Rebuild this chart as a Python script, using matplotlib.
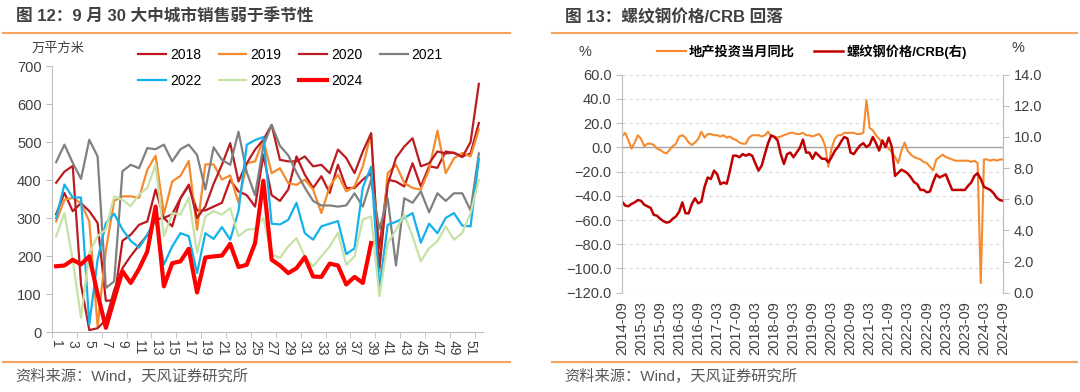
import matplotlib.pyplot as plt
import numpy as np
from matplotlib.lines import Line2D
from matplotlib.ticker import FuncFormatter

plt.rcParams["font.family"] = ["Liberation Sans", "Noto Sans CJK SC"]
plt.rcParams["axes.unicode_minus"] = True

# ---- left panel: weekly sales of 30 large/medium cities (万平方米) ----
weeks = list(range(1, 53))
week_labels = [str(w) for w in range(1, 53, 2)]

sales_2018 = [310, 366, 318, 339, 318, 287, 82, 84, 240, 256, 282, 291, 375, 300, 278, 352,
              385, 320, 320, 330, 340, 400, 370, 360, 330, 466, 360, 345, 375, 462, 414, 379,
              410, 366, 440, 379, 379, 401, 418, 220, 401, 396, 383, 444, 383, 436, 432, 475,
              471, 462, 470, 550]
sales_2019 = [291, 348, 353, 339, 291, 15, 215, 345, 357, 357, 353, 427, 464, 311, 396, 411,
              450, 269, 441, 441, 401, 412, 340, 444, 449, 506, 418, 431, 392, 387, 401, 375,
              313, 383, 414, 370, 383, 436, 523, 160, 418, 440, 392, 379, 375, 427, 530, 418,
              457, 471, 462, 533]
sales_2020 = [393, 422, 437, 125, 5, 10, 32, 110, 168, 200, 228, 255, 296, 300, 310, 352,
              388, 300, 330, 390, 440, 497, 396, 444, 480, 506, 545, 453, 449, 449, 462, 436,
              440, 418, 480, 458, 418, 475, 523, 170, 387, 458, 488, 510, 436, 444, 475, 470,
              472, 460, 500, 653]
sales_2021 = [447, 493, 445, 403, 506, 462, 116, 133, 423, 440, 431, 484, 481, 493, 449, 481,
              493, 466, 375, 486, 453, 440, 527, 420, 360, 490, 545, 490, 465, 420, 380, 345,
              333, 333, 330, 333, 365, 330, 400, 270, 352, 175, 352, 340, 370, 315, 365, 345,
              365, 365, 320, 470]
sales_2022 = [300, 388, 354, 354, 20, 190, 287, 311, 270, 240, 222, 256, 296, 178, 225, 260,
              252, 155, 260, 245, 276, 243, 318, 493, 505, 513, 285, 283, 295, 340, 260, 243,
              278, 285, 292, 205, 220, 380, 435, 115, 282, 290, 300, 313, 235, 285, 260, 300,
              313, 280, 278, 455]
sales_2023 = [252, 313, 190, 37, 208, 252, 270, 357, 348, 331, 362, 379, 440, 252, 313, 309,
              353, 208, 304, 318, 309, 326, 252, 269, 271, 300, 204, 195, 225, 247, 199, 173,
              199, 225, 261, 177, 199, 296, 304, 94, 234, 269, 309, 252, 186, 221, 239, 278,
              243, 261, 313, 400]
sales_2024 = [173, 175, 190, 178, 199, 100, 11, 86, 160, 129, 166, 212, 330, 120, 181, 186,
              219, 104, 196, 199, 201, 232, 171, 177, 234, 398, 190, 175, 155, 168, 197, 146,
              145, 180, 175, 125, 145, 129, 234]

years = ["2018", "2019", "2020", "2021", "2022", "2023", "2024"]
year_colors = ["#C0161D", "#F58A2E", "#B81E22", "#808080", "#14B1EC", "#C6E2A6", "#FF0000"]

# ---- right panel: monthly, 2014-09 .. 2024-09 ----
month_idx = list(range(121))
month_labels = ["2014-09", "2015-03", "2015-09", "2016-03", "2016-09", "2017-03", "2017-09",
                "2018-03", "2018-09", "2019-03", "2019-09", "2020-03", "2020-09", "2021-03",
                "2021-09", "2022-03", "2022-09", "2023-03", "2023-09", "2024-03", "2024-09"]

invest_yoy = [9, 12, 6, -1, 4, 10, 7, 1, 3, 3, 2, -1,
              -2, -4, -5, -2, 1, 3, 9, 10, 8, 4, 2, 4,
              7, 13, 8, 11, 11, 10, 10, 9, 10, 8, 9, 7,
              6, 4, 3, 3, 8, 10, 10, 10, 9, 10, 13, 9,
              9, 8, 9, 10, 11, 12, 12, 11, 11, 12, 10, 10,
              9, 10, 11, 8, 1, -16, -1, 7, 10, 10, 12, 12,
              12, 12, 11, 11, 12, 39, 16, 14, 10, 7, 4, 2,
              -1, -4, -8, -13, -3, 4, -3, -6, -8, -9, -10, -12,
              -13, -16, -19, -10, -8, -6, -8, -9, -10, -11, -11, -11,
              -11, -11, -12, -11, -13, -112, -10, -10, -11, -10, -11, -10,
              -10]
rebar_crb = [5.85, 5.6, 5.55, 5.7, 5.8, 5.95, 5.9, 5.65, 5.55, 5.45, 5.0, 4.95,
             4.75, 4.6, 4.5, 4.55, 4.75, 4.9, 5.2, 5.8, 5.1, 5.1, 5.7, 6.06,
             5.74, 5.85, 6.8, 7.4, 7.3, 7.84, 7.6, 6.97, 7.08, 7.0, 7.84, 8.8,
             8.8, 8.7, 8.9, 8.8, 8.9, 8.8, 8.3, 7.84, 8.16, 8.9, 9.6, 10.1,
             10.0, 9.78, 8.9, 8.27, 8.9, 9.0, 8.7, 9.0, 9.3, 9.83, 9.0, 9.0,
             8.6, 9.0, 8.8, 8.6, 8.6, 8.38, 8.7, 9.1, 9.35, 9.7, 10.0, 9.9,
             9.0, 8.9, 9.2, 9.46, 9.6, 9.35, 9.5, 10.0, 9.6, 9.13, 9.78, 9.35,
             9.96, 9.35, 7.5, 7.7, 7.9, 7.8, 7.65, 7.4, 7.1, 6.97, 6.6, 6.6,
             6.45, 6.5, 7.1, 7.6, 7.4, 7.5, 7.6, 7.08, 6.6, 6.6, 6.6, 6.6,
             6.6, 6.86, 7.08, 7.5, 7.67, 7.3, 6.8, 6.7, 6.6, 6.4, 6.1, 5.95,
             5.9]

TEXT = "#404040"
SPINE = "#BFBFBF"
ORANGE_RULE = "#F4A25E"

fig = plt.figure(figsize=(10.8, 3.92), dpi=100)


def fig_x(px):
    return px / 1080


def fig_y(py):
    return 1 - py / 392


def draw_frame(x0, x1, title, title_x):
    fig.text(fig_x(title_x), fig_y(17), title, fontsize=12, fontweight="bold",
             color=TEXT, va="center", ha="left")
    for py in (33, 362):
        fig.add_artist(Line2D([fig_x(x0), fig_x(x1)], [fig_y(py)] * 2,
                              color=ORANGE_RULE, lw=1.5, transform=fig.transFigure))
    fig.text(fig_x(title_x - 1), fig_y(376), "资料来源：Wind，天风证券研究所",
             fontsize=11, color="#595959", va="center", ha="left")


# ---------------- left chart ----------------
draw_frame(3, 510, "图 12：9 月 30 大中城市销售弱于季节性", 16)

ax1 = fig.add_axes([fig_x(52), fig_y(332), fig_x(483 - 52), (332 - 66) / 392])
series = [sales_2018, sales_2019, sales_2020, sales_2021, sales_2022, sales_2023, sales_2024]
lines = {}
for year, vals, color in zip(years, series, year_colors):
    lw = 3.0 if year == "2024" else 1.6
    lines[year], = ax1.plot(weeks[:len(vals)], vals, color=color, lw=lw, label=year,
                            zorder=5 if year == "2024" else 3)

ax1.set_xlim(0.5, 52.5)
ax1.set_ylim(0, 700)
ax1.set_yticks(range(0, 701, 100))
ax1.set_xticks(range(1, 53, 2))
ax1.set_xticklabels(week_labels, rotation=270)
ax1.set_xticks(np.arange(0.5, 53, 3), minor=True)
ax1.tick_params(axis="x", which="major", length=0, pad=6, labelsize=10, labelcolor=TEXT)
ax1.tick_params(axis="x", which="minor", length=4, color=SPINE, direction="out")
ax1.tick_params(axis="y", length=4, color=SPINE, labelsize=10.5, labelcolor=TEXT)
for side in ("top", "right"):
    ax1.spines[side].set_visible(False)
for side in ("left", "bottom"):
    ax1.spines[side].set_color(SPINE)
fig.text(fig_x(58), fig_y(49), "万平方米", fontsize=9.5, color=TEXT, ha="center", va="center")

# legend fills column by column, so interleave to get two rows 2018-2021 / 2022-2024
legend_order = ["2018", "2022", "2019", "2023", "2020", "2024", "2021"]
fig.legend([lines[y] for y in legend_order], legend_order, loc="upper left",
           bbox_to_anchor=(fig_x(138), fig_y(48)), ncol=4, frameon=False, fontsize=10,
           handlelength=2.0, handletextpad=0.3, columnspacing=1.25, labelspacing=0.85,
           borderpad=0, borderaxespad=0)

# ---------------- right chart ----------------
draw_frame(552, 1077, "图 13：螺纹钢价格/CRB 回落", 565)

ax2 = fig.add_axes([fig_x(622), fig_y(292.7), fig_x(1003 - 622), (292.7 - 74.7) / 392])
ax3 = ax2.twinx()

ax2.plot(month_idx, invest_yoy, color="#F58A2E", lw=1.5, label="地产投资当月同比")
ax3.plot(month_idx, rebar_crb, color="#C00000", lw=1.8, label="螺纹钢价格/CRB(右)")

fmt = FuncFormatter(lambda v, _: f"{v:.1f}".replace("-", "\u2212"))
ax2.set_xlim(0, 120)
ax2.set_ylim(-120, 60)
ax2.set_yticks(range(-120, 61, 20))
ax2.yaxis.set_major_formatter(fmt)
ax3.set_ylim(0, 14)
ax3.set_yticks(range(0, 15, 2))
ax3.yaxis.set_major_formatter(fmt)
ax2.set_xticks(range(0, 121, 6))
ax2.set_xticklabels(month_labels, rotation=90)
ax2.tick_params(axis="x", length=0, pad=6, labelsize=10.5, labelcolor=TEXT)
ax2.tick_params(axis="y", length=4, color=SPINE, labelsize=10.5, labelcolor=TEXT)
ax3.tick_params(axis="y", length=4, color=SPINE, labelsize=10.5, labelcolor=TEXT)
ax2.yaxis.grid(True, ls=(0, (3, 3)), color="#D9D9D9", lw=0.8)
ax2.set_axisbelow(True)
ax2.axhline(0, color="#A6A6A6", lw=1.0, zorder=1)
for a in (ax2, ax3):
    for side in ("top", "bottom"):
        a.spines[side].set_visible(False)
    for side in ("left", "right"):
        a.spines[side].set_color(SPINE)

fig.text(fig_x(585), fig_y(52), "%", fontsize=10.5, color=TEXT, ha="center", va="center")
fig.text(fig_x(1018), fig_y(48), "%", fontsize=10.5, color=TEXT, ha="center", va="center")

handles = ax2.get_legend_handles_labels()[0] + ax3.get_legend_handles_labels()[0]
labels = [h.get_label() for h in handles]
fig.legend(handles, labels, loc="upper left", bbox_to_anchor=(fig_x(657), fig_y(44)),
           ncol=2, frameon=False, prop={"size": 9.5, "weight": "bold"},
           handlelength=2.2, handletextpad=0.2, columnspacing=1.5,
           borderpad=0, borderaxespad=0)

fig.savefig("out.png", dpi=100)
